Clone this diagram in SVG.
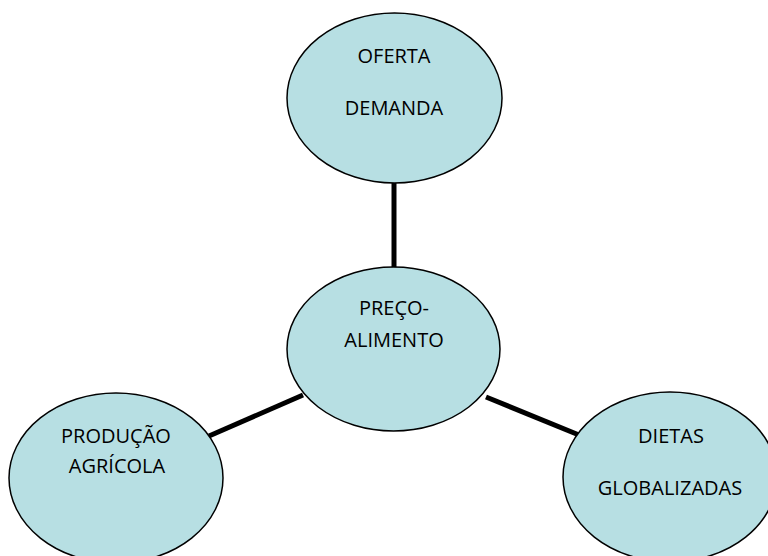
<svg xmlns="http://www.w3.org/2000/svg" width="768" height="556" viewBox="0 0 768 556">
<style>
.n{fill:#B7DFE3;stroke:#000;stroke-width:1.5}
.t{font-family:"Open Sans","Liberation Sans",sans-serif;font-size:20px;fill:#000;text-anchor:middle}
.c{stroke:#000;stroke-width:5;fill:none}
</style>
<rect width="768" height="556" fill="#fff"/>
<g id="connectors">
<line class="c" x1="394" y1="183" x2="394" y2="268"/>
<line class="c" x1="209" y1="436" x2="303" y2="395"/>
<line class="c" x1="486" y1="397" x2="579" y2="435"/>
</g>
<g id="oferta">
<ellipse class="n" cx="394.5" cy="98" rx="107.5" ry="85"/>
<text class="t" x="394" y="63">OFERTA</text>
<text class="t" x="394" y="115">DEMANDA</text>
</g>
<g id="preco">
<ellipse class="n" cx="393.5" cy="349" rx="106.5" ry="82"/>
<text class="t" x="394" y="315">PREÇO-</text>
<text class="t" x="394" y="347">ALIMENTO</text>
</g>
<g id="producao">
<ellipse class="n" cx="116" cy="478" rx="107" ry="85"/>
<text class="t" x="116" y="443">PRODUÇÃO</text>
<text class="t" x="117" y="473">AGRÍCOLA</text>
</g>
<g id="dietas">
<ellipse class="n" cx="670" cy="477" rx="107" ry="85"/>
<text class="t" x="671" y="443">DIETAS</text>
<text class="t" x="670" y="495">GLOBALIZADAS</text>
</g>
</svg>
